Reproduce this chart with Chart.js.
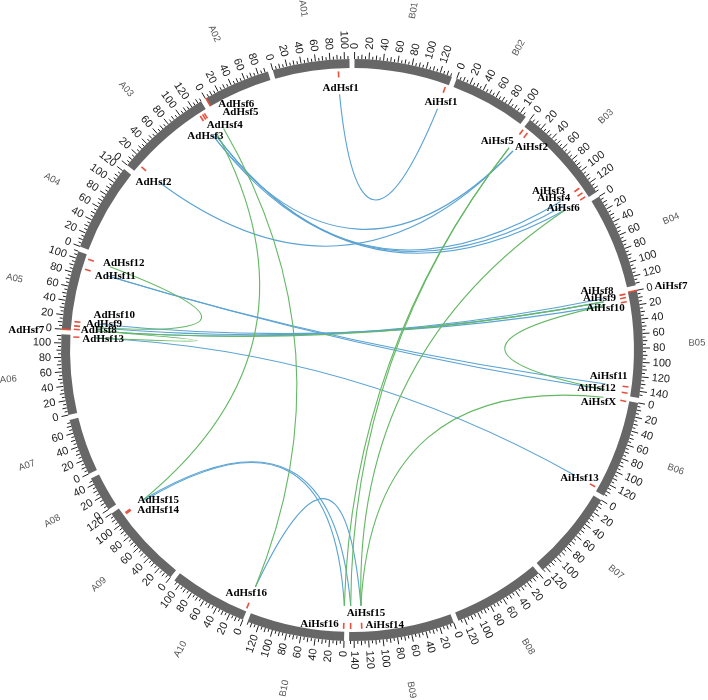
<!DOCTYPE html>
<html>
<head>
<meta charset="utf-8">
<script src="https://cdn.jsdelivr.net/npm/chart.js@4.4.1/dist/chart.umd.min.js"></script>
<style>
  html, body { margin: 0; padding: 0; background: #fff; }
  #wrap { width: 708px; height: 700px; }
</style>
</head>
<body>
<div id="wrap"><canvas id="circosChart" width="708" height="700"></canvas></div>
<script>
// chromosomes in clockwise order from 12 o'clock
const chromosomes = ['B01', 'B02', 'B03', 'B04', 'B05', 'B06', 'B07', 'B08', 'B09', 'B10',
                     'A10', 'A09', 'A08', 'A07', 'A06', 'A05', 'A04', 'A03', 'A02', 'A01'];
const chromLengths = [137, 109, 136, 133, 149, 137, 126, 129, 147, 136,
                      109, 120, 49, 79, 112, 110, 123, 135, 94, 107]; // Mb
const gapLength = 7; // spacer between chromosomes, in Mb units

const tickMinor = 5;
const tickMid = 10;
const tickLabelStep = 20;

// Hsf genes: chromosome + position (Mb)
const geneNames = ['AdHsf1', 'AdHsf2', 'AdHsf3', 'AdHsf4', 'AdHsf5', 'AdHsf6', 'AdHsf7', 'AdHsf8',
                   'AdHsf9', 'AdHsf10', 'AdHsf11', 'AdHsf12', 'AdHsf13', 'AdHsf14', 'AdHsf15', 'AdHsf16',
                   'AiHsf1', 'AiHsf2', 'AiHsf3', 'AiHsf4', 'AiHsf5', 'AiHsf6', 'AiHsf7', 'AiHsf8',
                   'AiHsf9', 'AiHsf10', 'AiHsf11', 'AiHsf12', 'AiHsfX', 'AiHsf13', 'AiHsf14', 'AiHsf15', 'AiHsf16'];
const geneChrom = ['A01', 'A03', 'A03', 'A03', 'A03', 'A02', 'A05', 'A05',
                   'A05', 'A05', 'A05', 'A05', 'A06', 'A09', 'A09', 'A10',
                   'B01', 'B03', 'B03', 'B03', 'B03', 'B03', 'B05', 'B05',
                   'B05', 'B05', 'B05', 'B05', 'B06', 'B06', 'B09', 'B09', 'B10'];
const genePos = [91, 11, 123, 127, 130, 1, 0, 1,
                 6, 12, 89, 104, 109, 108, 110, 1,
                 133, 9, 118, 126, 1, 133, 0, 2,
                 7, 13, 136, 145, 1, 132, 129, 145, 1];
// genes drawn on the ideogram itself
const ringGenes = ['AdHsf6', 'AdHsf7', 'AiHsf7'];

// collinear pairs
const blueLinks = [
  ['AdHsf1', 'AiHsf1'], ['AdHsf2', 'AiHsf2'], ['AdHsf3', 'AiHsf2'],
  ['AdHsf3', 'AiHsf3'], ['AdHsf4', 'AiHsf4'], ['AdHsf4', 'AiHsf6'],
  ['AdHsf8', 'AiHsf8'], ['AdHsf9', 'AiHsf9'], ['AdHsf10', 'AiHsf10'],
  ['AdHsf11', 'AiHsf11'], ['AdHsf11', 'AiHsf12'], ['AdHsf13', 'AiHsf13'],
  ['AdHsf14', 'AiHsf16'], ['AdHsf15', 'AiHsf15'], ['AdHsf16', 'AiHsf14']
];
const greenLinks = [
  ['AdHsf5', 'AdHsf15'], ['AdHsf6', 'AdHsf16'], ['AdHsf12', 'AdHsf9'],
  ['AdHsf8', 'AdHsf13'], ['AdHsf8', 'AiHsf9'], ['AiHsf10', 'AiHsf12'],
  ['AiHsf5', 'AiHsf15'], ['AiHsf5', 'AiHsf16'], ['AiHsf6', 'AiHsf14'],
  ['AiHsfX', 'AiHsf14']
];

// ring dataset = chromosomes interleaved with blank spacers
const ringValues = [];
const ringColors = [];
const ringLabels = [];
chromLengths.forEach((len, i) => {
  ringValues.push(len, gapLength);
  ringColors.push('#676767', 'rgba(0,0,0,0)');
  ringLabels.push(chromosomes[i], '');
});
const totalLength = ringValues.reduce((a, b) => a + b, 0);
const gapDeg = 360 * gapLength / totalLength;

// label placement next to each gene mark: [align, dx, dy]
const labelLayout = {
  AdHsf1: ['center', 2, 13], AdHsf2: ['left', -9, 13], AdHsf3: ['left', -15, 17],
  AdHsf4: ['left', 2, 7], AdHsf5: ['left', 16, -5], AdHsf6: ['left', 10, 2],
  AdHsf7: ['right', -22, 1], AdHsf8: ['left', 3, 1], AdHsf9: ['left', 8, -2],
  AdHsf10: ['left', 15, -7], AdHsf11: ['left', 6, 6], AdHsf12: ['left', 11, 3],
  AdHsf13: ['left', 5, 2], AdHsf14: ['left', 8, -1], AdHsf15: ['left', 9, -10],
  AdHsf16: ['center', -2, -11],
  AiHsf1: ['center', -3, 11], AiHsf2: ['left', -10, 11], AiHsf3: ['right', -11, 1],
  AiHsf4: ['right', -9, 3], AiHsf5: ['right', -7, 8], AiHsf6: ['right', -2, 9],
  AiHsf7: ['left', 22, -5], AiHsf8: ['right', -8, -4], AiHsf9: ['right', -6, 0],
  AiHsf10: ['right', 2, 6], AiHsf11: ['right', 3, -10], AiHsf12: ['right', -8, -4],
  AiHsfX: ['right', -6, 1], AiHsf13: ['right', 7, -7], AiHsf14: ['left', 4, 0],
  AiHsf15: ['left', -4, -12], AiHsf16: ['right', -5, -1]
};

const circosPlugin = {
  id: 'circos',
  afterDatasetsDraw(chart) {
    const ctx = chart.ctx;
    const arcs = chart.getDatasetMeta(0).data;
    const cx = arcs[0].x, cy = arcs[0].y;
    const outerR = arcs[0].outerRadius, innerR = arcs[0].innerRadius;
    const linkR = innerR - 26;
    const markIn = innerR - 9, markOut = innerR - 3;

    function angleAt(chrom, pos) {
      const i = chromosomes.indexOf(chrom);
      const arc = arcs[2 * i];
      return arc.startAngle + (arc.endAngle - arc.startAngle) * pos / chromLengths[i];
    }
    function geneAngle(name) {
      const g = geneNames.indexOf(name);
      return angleAt(geneChrom[g], genePos[g]);
    }
    function pt(a, r) {
      return [cx + r * Math.cos(a), cy + r * Math.sin(a)];
    }
    // radial text, flipped on the left half so it stays readable
    function radialText(text, a, r, centered) {
      const [x, y] = pt(a, r);
      const rightSide = Math.cos(a) >= 0;
      ctx.save();
      ctx.translate(x, y);
      ctx.rotate(rightSide ? a : a + Math.PI);
      ctx.textAlign = centered ? 'center' : (rightSide ? 'left' : 'right');
      ctx.textBaseline = 'middle';
      ctx.fillText(text, 0, 0);
      ctx.restore();
    }

    ctx.save();

    // ticks and tick labels
    ctx.strokeStyle = '#222';
    ctx.fillStyle = '#1a1a1a';
    ctx.lineWidth = 1;
    ctx.font = '11px "Liberation Sans", Arial, sans-serif';
    chromosomes.forEach((chrom, i) => {
      for (let p = 0; p <= chromLengths[i]; p += tickMinor) {
        const a = angleAt(chrom, p);
        const len = p % tickLabelStep === 0 ? 7 : (p % tickMid === 0 ? 4.5 : 3);
        const [x0, y0] = pt(a, outerR);
        const [x1, y1] = pt(a, outerR + len);
        ctx.beginPath();
        ctx.moveTo(x0, y0);
        ctx.lineTo(x1, y1);
        ctx.stroke();
        if (p % tickLabelStep === 0) {
          radialText(String(p), a, outerR + 10, false);
        }
      }
    });

    // chromosome names
    ctx.fillStyle = '#555';
    ctx.font = '9.5px "Liberation Sans", Arial, sans-serif';
    chromosomes.forEach((chrom, i) => {
      radialText(chrom, angleAt(chrom, chromLengths[i] / 2), outerR + 54, true);
    });

    // links: control point sits near the centre for distant pairs,
    // further out for neighbouring pairs (circos-like look)
    function drawLink(pair, color) {
      const [x0, y0] = pt(geneAngle(pair[0]), linkR);
      const [x2, y2] = pt(geneAngle(pair[1]), linkR);
      const mx = (x0 + x2) / 2 - cx, my = (y0 + y2) / 2 - cy;
      const m = Math.hypot(mx, my);
      const d = Math.max(0, 0.4 * (m - 120));
      const kx = m > 0 ? cx + mx / m * d : cx;
      const ky = m > 0 ? cy + my / m * d : cy;
      ctx.strokeStyle = color;
      ctx.lineWidth = 1.1;
      ctx.beginPath();
      ctx.moveTo(x0, y0);
      ctx.quadraticCurveTo(kx, ky, x2, y2);
      ctx.stroke();
    }
    blueLinks.forEach(l => drawLink(l, '#5ba3d3'));
    greenLinks.forEach(l => drawLink(l, '#64b864'));

    // gene marks
    ctx.strokeStyle = '#e8503c';
    ctx.lineWidth = 1.6;
    geneNames.forEach(name => {
      const a = geneAngle(name);
      const onRing = ringGenes.includes(name);
      const [x0, y0] = pt(a, onRing ? innerR : markIn);
      const [x1, y1] = pt(a, onRing ? outerR : markOut);
      ctx.beginPath();
      ctx.moveTo(x0, y0);
      ctx.lineTo(x1, y1);
      ctx.stroke();
    });

    // gene labels
    ctx.fillStyle = '#000';
    ctx.font = 'bold 11px "Liberation Serif", "Times New Roman", serif';
    ctx.textBaseline = 'middle';
    geneNames.forEach(name => {
      const a = geneAngle(name);
      const onRing = ringGenes.includes(name);
      const [x, y] = pt(a, onRing ? (innerR + outerR) / 2 : innerR - 7);
      const [align, dx, dy] = labelLayout[name];
      ctx.textAlign = align;
      ctx.fillText(name, x + dx, y + dy);
    });

    ctx.restore();
  }
};

new Chart(document.getElementById('circosChart'), {
  type: 'doughnut',
  data: {
    labels: ringLabels,
    datasets: [{
      data: ringValues,
      backgroundColor: ringColors,
      borderWidth: 0,
      hoverOffset: 0
    }]
  },
  options: {
    responsive: false,
    animation: false,
    rotation: gapDeg / 2,
    cutout: '96.9%',
    layout: { padding: { left: 61, right: 65, top: 59, bottom: 59 } },
    events: [],
    plugins: {
      legend: { display: false },
      tooltip: { enabled: false }
    }
  },
  plugins: [circosPlugin]
});
</script>
</body>
</html>
